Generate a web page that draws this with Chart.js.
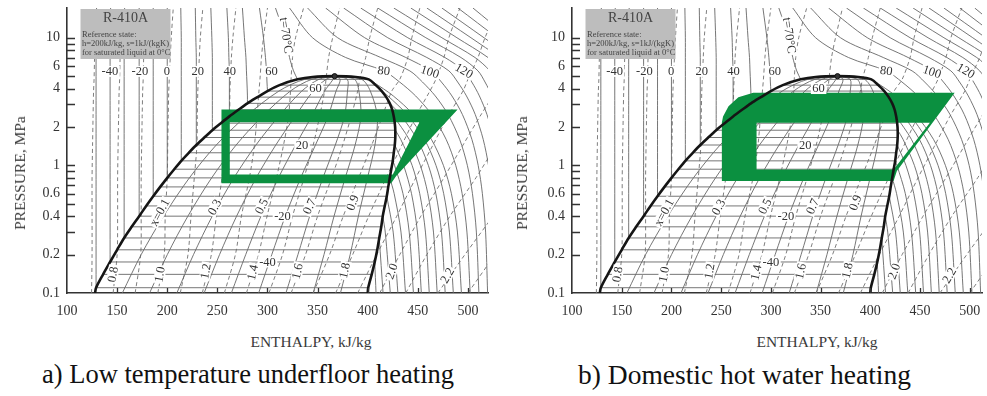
<!DOCTYPE html>
<html>
<head>
<meta charset="utf-8">
<script src="https://cdn.jsdelivr.net/npm/chart.js@4.4.1/dist/chart.umd.min.js"></script>
<style>
  html, body { margin: 0; padding: 0; background: #fff; }
  body { position: relative; width: 987px; height: 396px; overflow: hidden; font-family: "Liberation Serif", serif; }
  .wrap { position: absolute; top: 0; height: 325px; }
  .ytitle, .xtitle { position: absolute; white-space: nowrap; font-size: 15.5px; color: #3a3a3a; }
  .ytitle { transform: translate(-50%, -50%) rotate(-90deg); }
  .xtitle { transform: translate(-50%, -50%); }
  .cap { position: absolute; white-space: nowrap; color: #111; top: 359px; }
</style>
</head>
<body>
<div class="wrap" style="left:0;width:495px"><canvas id="chartA"></canvas></div>
<div class="wrap" style="left:500px;width:487px"><canvas id="chartB"></canvas></div>
<div class="ytitle" style="left:20px;top:173px">PRESSURE, MPa</div>
<div class="ytitle" style="left:522px;top:173px">PRESSURE, MPa</div>
<div class="xtitle" style="left:311px;top:342px">ENTHALPY, kJ/kg</div>
<div class="xtitle" style="left:817px;top:342px">ENTHALPY, kJ/kg</div>
<div class="cap" style="left:42px;font-size:26.5px">a) Low temperature underfloor heating</div>
<div class="cap" style="left:578px;font-size:27.5px">b) Domestic hot water heating</div>
<script>
// saturation data (every 5 C)
const satT  = [-50,-45,-40,-35,-30,-25,-20,-15,-10,-5,0,5,10,15,20,25,30,35,40,45,50,55,60,65,70];
const satP  = [0.110,0.140,0.175,0.218,0.270,0.330,0.400,0.481,0.573,0.678,0.798,0.933,1.085,1.255,1.444,1.653,1.885,2.140,2.419,2.726,3.061,3.425,3.821,4.252,4.72];
const satHl = [129,136,143,150,157,164.5,172,179,186,193,200,207,214,221.5,229,237,245,253.5,262,271,280,290,300,312,330];
const satHv = [400.5,404,407,409.5,411.5,413.5,415,417,419,420.5,422,423.5,425,426,427,427.5,427.5,427,426,424.5,422,418.5,414,408,401];
// dome top and feet
const capH = [345, 367, 388];
const capP = [4.93, 5.0, 4.93];
const footH = [128, 400];
const critH = 367, critP = 5.0;

// isotherms, h at these pressures (null = not drawn)
const isoP = [17.1, 10, 7, 5.5, 4.5, 3.5, 2.5, 1.6, 1, 0.6, 0.3, 0.1];
const isoT = [-50,-40,-30,-20,-10,0,10,20,30,40,50,60,70,80,90,100,110,120,130,140,150,160,170,180,190,200];
const isoH = [
  [129.5,129,129,129,129,129,129,129,129,129,129,400.7],
  [143.5,143,143,143,143,143,143,143,143,143,143,408.3],
  [157.5,157,157,157,157,157,157,157,157,157,157,415.3],
  [172,172,172,172,172,172,172,172,172,172,417.5,422.5],
  [186,186,186,186,186,186,186,186,186,186,425.4,430.1],
  [200,200,200,200,200,200,200,200,200,426.4,433.2,437.7],
  [213.5,214,214,214,214,214,214,214,426.8,435.2,441.4,445.6],
  [228,228.5,229,229,229,229,229,229,435.8,443.7,449.6,453.5],
  [243.5,244.5,245,245,245,245,245,432.9,444.3,451.9,457.6,461.4],
  [259.5,261,261.5,262,262,262,262,441.3,452.5,460,465.6,469.3],
  [275,277,278.5,279,279.5,280,432.5,449.3,460.5,468,473.6,477.3],
  [292,296,298,299,299.5,420.1,439.3,456.6,468.1,475.8,481.5,485.4],
  [308,318,322,326,405.5,425.5,445.5,463.5,475.5,483.5,489.5,493.5],
  [322,345,378,416,431.8,447.8,463.8,478.2,487.8,494.2,499,502.2],
  [340,370,413,442,454.6,467.4,480.2,491.7,499.4,504.5,508.4,510.9],
  [358,397,438,463,473.5,484,494.5,503.9,510.2,514.4,517.6,519.6],
  [376,420,459,481,489.7,498.5,507.3,515.2,520.5,524,527,529],
  [393,440,477,496,503.8,511.4,519,525.8,530,null,null,null],
  [410,458,493,510,517,524,531,null,null,null,null,null],
  [426,474,507,522,529,null,null,null,null,null,null,null],
  [443,489,520,534,null,null,null,null,null,null,null,null],
  [459,503,532,null,null,null,null,null,null,null,null,null],
  [474,516,544,null,null,null,null,null,null,null,null,null],
  [490,529,null,null,null,null,null,null,null,null,null,null],
  [505,541,null,null,null,null,null,null,null,null,null,null],
  [520,553,null,null,null,null,null,null,null,null,null,null]
];

// constant quality lines x = 0.1 ... 0.9
const qualP = [0.1, 0.2, 0.4, 0.8, 1.44, 2.42, 3.82, 4.72, 5.0];
const qualH = [
  [155.2,174,196.3,222.2,248.8,278.4,311.4,337.1,367],
  [182.4,200.1,220.6,244.4,268.6,294.8,322.8,344.2,367],
  [209.6,226.2,244.9,266.6,288.4,311.2,334.2,351.3,367],
  [236.8,252.2,269.2,288.8,308.2,327.6,345.6,358.4,367],
  [264,278.3,293.5,311,328,344,357,365.5,367],
  [291.2,304.3,317.8,333.2,347.8,360.4,368.4,372.6,367],
  [318.4,330.4,342.1,355.4,367.6,376.8,379.8,379.7,367],
  [345.6,356.4,366.4,377.6,387.4,393.2,391.2,386.8,367],
  [372.8,382.5,390.7,399.8,407.2,409.6,402.6,393.9,367]
];

// isentropes s = 0.7 ... 2.3 (dashed)
const isenP = [0.1, 0.2, 0.4, 0.8, 1.44, 2.42, 3.82, 4.72, 7, 10, 17.1];
const isenH = [
  [124.5,125,125,125,125.5,126,126.5,127,127.5,128,129.5],
  [146,150,150.5,150.5,151,151.5,152,152.5,153,154,155.5],
  [168,173.5,174,174,174.5,175,175.5,176,176.5,177.5,179],
  [190.6,197,198,200,200.5,201,201.5,202,203,204,206],
  [213,220.7,223.7,227,229.6,230,230.5,231,232,233,235.5],
  [235,244,249,254.6,257.7,262,262.5,263,264,265.5,268.5],
  [257,268,274,282,287,289.5,291.5,292.5,294,296,300],
  [279,291,299.6,309,316,321,323,323.5,325,328,336],
  [301.5,315,325,336.5,345.6,352,357,358.4,361,365,372],
  [323.6,338,350,364,375,383.5,390,392,398,402,410],
  [345.6,362,375.6,391,404,414.6,424,432,440,444,452],
  [368,385,401,418.5,434,448,462,468,476,481,492],
  [390,409,429,448,465,480,495,500,510,517,530],
  [412,432,453,476,495,512,528,null,null,null,null],
  [438,459,482,508,528,null,null,null,null,null,null],
  [470,497,525,null,null,null,null,null,null,null,null],
  [500,527,null,null,null,null,null,null,null,null,null]
];

// heat pump cycles (outer ring, then inner ring)
const cycleAH = [254.1,489.7,428.4,423.4,254.1,254.1, 262.4,262.4,425,451.6,262.4, 254.1];
const cycleAP = [2.745,2.745,0.824,0.723,0.723,2.745, 2.18,0.85,0.85,2.18,2.18, 2.745];
const cycleBH = [282.3,484.8,426.7,423.4,250.7,250.7,251.9,257.4,267.3,282.3, 285.6,285.6,423.4,459.9,285.6, 282.3];
const cycleBP = [3.71,3.71,0.902,0.753,0.753,2.17,2.42,2.90,3.41,3.71, 2.16,0.93,0.93,2.16,2.16, 3.71];

// curve labels
const labelText = ['-40','-20','0','20','40','60','t=70°C','80','100','120','60','20','-20','-40',
                   'x=0.1','0.3','0.5','0.7','0.9','0.8','1.0','1.2','1.4','1.6','1.8','2.0','2.2'];
const labelH = [142.8,172.7,199.6,230.5,262.4,303.9,318.5,416,462,496,348,334.5,315,300,
                192.6,247.4,294.2,342,385,145.8,192.6,238.4,285.3,330,377,424,479.5];
const labelP = [5.45,5.45,5.45,5.45,5.45,5.45,10.4,5.5,5.4,5.5,4.0,1.444,0.40,0.175,
                0.428,0.47,0.477,0.477,0.51,0.14,0.14,0.148,0.145,0.148,0.15,0.148,0.137];
const labelRot = [0,0,0,0,0,0,82,8,18,30,0,0,0,0,
                  -62,-62,-64,-66,-70,-80,-80,-80,-78,-78,-78,-70,-60];

const infoLines = ['R-410A', 'Reference state:', 'h=200kJ/kg, s=1kJ/(kgK)', 'for saturated liquid at 0°C'];

const xLabelVals = [100,150,200,250,300,350,400,450,500];
const xTickMarks = [150,200,250,300,350,400,450,500];
const yLabelVals = [0.1,0.2,0.4,0.6,1,2,4,6,10];
const yTickMarks = [0.2,0.3,0.4,0.5,0.6,0.7,0.8,0.9,1,2,3,4,5,6,7,8,9,10];

const gray = '#666';
const green = '#0b9040';

Chart.defaults.font.family = '"Liberation Serif", serif';

function pts(hs, ps) {
  const out = [];
  hs.forEach((h, i) => { if (h !== null) out.push({x: h, y: ps[i]}); });
  return out;
}

function buildDatasets(cycH, cycP) {
  const ds = [];
  const thin = {borderColor: gray, borderWidth: 0.9, pointRadius: 0, fill: false, order: 5, tension: 0.3};

  // horizontal isotherms inside the dome
  const hor = [];
  satT.forEach((t, i) => {
    hor.push({x: satHl[i], y: satP[i]}, {x: satHv[i], y: satP[i]}, {x: null, y: null});
  });
  ds.push({...thin, data: hor, tension: 0});

  // isotherms outside the dome
  isoT.forEach((t, k) => {
    const row = isoH[k];
    const i = satT.indexOf(t);
    if (i >= 0) {
      const liq = [], vap = [{x: satHv[i], y: satP[i]}];
      row.forEach((h, j) => {
        if (h === null) return;
        if (isoP[j] > satP[i]) liq.push({x: h, y: isoP[j]});
        else vap.push({x: h, y: isoP[j]});
      });
      liq.push({x: satHl[i], y: satP[i]});
      ds.push({...thin, data: liq});
      ds.push({...thin, data: vap});
    } else {
      ds.push({...thin, data: pts(row, isoP)});
    }
  });

  // quality lines
  qualH.forEach(row => ds.push({...thin, data: pts(row, qualP)}));

  // isentropes
  isenH.forEach(row => ds.push({...thin, borderColor: '#707070', borderDash: [4, 3], data: pts(row, isenP)}));

  // cycle
  ds.push({data: pts(cycH, cycP), borderWidth: 0, pointRadius: 0, tension: 0,
           fill: 'shape', backgroundColor: green, borderColor: green, order: 2});

  // saturation dome
  const dome = [{x: footH[0], y: 0.1}];
  satHl.forEach((h, i) => dome.push({x: h, y: satP[i]}));
  capH.forEach((h, i) => dome.push({x: h, y: capP[i]}));
  for (let i = satHv.length - 1; i >= 0; i--) dome.push({x: satHv[i], y: satP[i]});
  dome.push({x: footH[1], y: 0.1});
  ds.push({data: dome, borderColor: '#151515', borderWidth: 2.6, pointRadius: 0, tension: 0.3, fill: false, order: 1});

  // critical point
  ds.push({data: [{x: critH, y: critP}], showLine: false, pointRadius: 2.6,
           pointBackgroundColor: '#333', pointBorderColor: '#111', pointBorderWidth: 1, order: 0});
  return ds;
}

const infoBox = {
  id: 'infoBox',
  afterDatasetsDraw(chart) {
    const {ctx, chartArea: a} = chart;
    const x0 = a.left + 13.5, y0 = 9, w = 90, h = 50;
    ctx.save();
    ctx.fillStyle = '#bdbdbd';
    ctx.fillRect(x0, y0, w, h);
    ctx.fillStyle = '#444';
    ctx.textAlign = 'center';
    ctx.textBaseline = 'middle';
    ctx.font = '14px "Liberation Serif"';
    ctx.fillText(infoLines[0], x0 + w / 2, y0 + 9.5);
    ctx.font = '8.5px "Liberation Serif"';
    ctx.textAlign = 'left';
    infoLines.slice(1).forEach((t, i) => ctx.fillText(t, x0 + 1.5, y0 + 25.3 + i * 9.2));
    ctx.restore();
  }
};

const curveLabels = {
  id: 'curveLabels',
  afterDatasetsDraw(chart) {
    const {ctx, scales: {x, y}} = chart;
    ctx.save();
    ctx.font = '12.5px "Liberation Serif"';
    ctx.textAlign = 'center';
    ctx.textBaseline = 'middle';
    labelText.forEach((t, i) => {
      const px = x.getPixelForValue(labelH[i]);
      const py = y.getPixelForValue(labelP[i]);
      ctx.save();
      ctx.translate(px, py);
      ctx.rotate(labelRot[i] * Math.PI / 180);
      const w = ctx.measureText(t).width;
      ctx.fillStyle = '#fff';
      ctx.fillRect(-w / 2 - 1.5, -5.5, w + 3, 11);
      ctx.fillStyle = '#333';
      ctx.fillText(t, 0, 0.5);
      ctx.restore();
    });
    ctx.restore();
  }
};

const inwardTicks = {
  id: 'inwardTicks',
  afterDraw(chart) {
    const {ctx, chartArea: a, scales: {x, y}} = chart;
    ctx.save();
    ctx.strokeStyle = '#333';
    ctx.lineWidth = 1.3;
    ctx.beginPath();
    yTickMarks.forEach(v => {
      const py = Math.round(y.getPixelForValue(v)) + 0.5;
      ctx.moveTo(a.left, py);
      ctx.lineTo(a.left + 8, py);
    });
    xTickMarks.forEach(v => {
      const px = Math.round(x.getPixelForValue(v)) + 0.5;
      ctx.moveTo(px, a.bottom);
      ctx.lineTo(px, a.bottom - 5);
    });
    ctx.stroke();
    ctx.restore();
  }
};

function makeChart(id, cycH, cycP, xMax, axisW, padRight) {
  return new Chart(document.getElementById(id), {
    type: 'line',
    data: {datasets: buildDatasets(cycH, cycP)},
    options: {
      responsive: true,
      maintainAspectRatio: false,
      animation: false,
      events: [],
      spanGaps: false,
      layout: {padding: {left: 0, right: padRight, top: 8, bottom: 0}},
      plugins: {legend: {display: false}, tooltip: {enabled: false}},
      elements: {point: {radius: 0}},
      scales: {
        x: {
          type: 'linear', min: 100, max: xMax,
          grid: {display: true, drawOnChartArea: false, drawTicks: false},
          border: {color: '#333', width: 1.6},
          ticks: {padding: 10, color: '#333', font: {size: 14}, autoSkip: false, maxRotation: 0,
                  callback: v => String(v)},
          afterBuildTicks: s => { s.ticks = xLabelVals.map(v => ({value: v})); },
          afterFit: s => { s.height = 32; s.paddingLeft = 0; s.paddingRight = 0; }
        },
        y: {
          type: 'logarithmic', min: 0.1, max: 17.1,
          grid: {display: true, drawOnChartArea: false, drawTicks: false},
          border: {color: '#333', width: 1.6},
          ticks: {padding: 7, color: '#333', font: {size: 14}, autoSkip: false,
                  callback: v => String(v)},
          afterBuildTicks: s => { s.ticks = yLabelVals.map(v => ({value: v})); },
          afterFit: s => { s.width = axisW; s.paddingTop = 0; s.paddingBottom = 0; }
        }
      }
    },
    plugins: [infoBox, curveLabels, inwardTicks]
  });
}

makeChart('chartA', cycleAH, cycleAP, 520, 67, 7);
makeChart('chartB', cycleBH, cycleBP, 512.3, 72, 1);
</script>
</body>
</html>
